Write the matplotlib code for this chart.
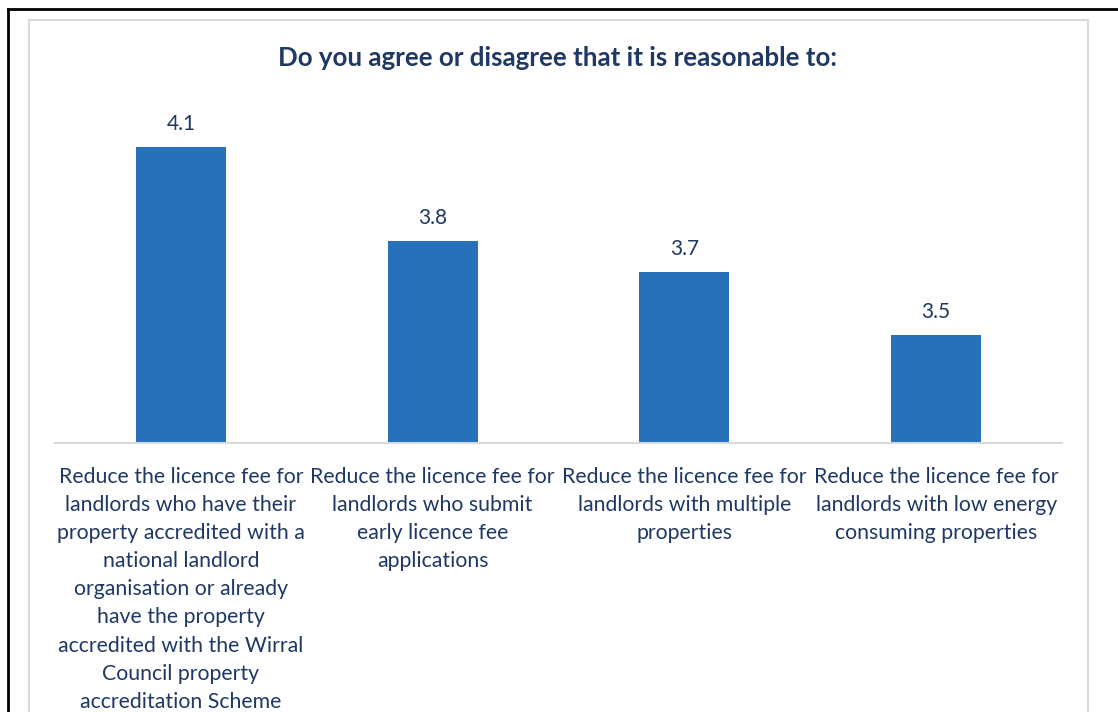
"""Bar chart of mean agreement scores for licence fee reductions."""

import matplotlib

matplotlib.use("Agg")
import matplotlib.pyplot as plt
from matplotlib.lines import Line2D
from matplotlib.patches import Rectangle

# Survey statements and their mean scores
categories = [
    "Reduce the licence fee for\nlandlords who have their\nproperty accredited with a\nnational landlord\n"
    "organisation or already\nhave the property\naccredited with the Wirral\nCouncil property\n"
    "accreditation Scheme",
    "Reduce the licence fee for\nlandlords who submit\nearly licence fee\napplications",
    "Reduce the licence fee for\nlandlords with multiple\nproperties",
    "Reduce the licence fee for\nlandlords with low energy\nconsuming properties",
]
scores = [4.1, 3.8, 3.7, 3.5]
title = "Do you agree or disagree that it is reasonable to:"

BAR_COLOR = "#2771BA"
TEXT_COLOR = "#1F3864"
FONT = ["Lato", "DejaVu Sans"]

W, H = 1118, 712
fig = plt.figure(figsize=(W / 100, H / 100), dpi=100)
fig.patch.set_facecolor("white")

# Frame lines around the chart
fig.add_artist(Line2D([8 / W, 1], [1 - 9 / H, 1 - 9 / H], color="black", lw=2))
fig.add_artist(Line2D([8 / W, 8 / W], [0, 1 - 9 / H], color="black", lw=2))
fig.add_artist(
    Rectangle((29 / W, -0.05), (1088 - 29) / W, 1.05 - 20 / H,
              fill=False, edgecolor="#D9D9D9", lw=1.5)
)

ax = fig.add_axes([55 / W, (H - 443) / H, 1007 / W, 343 / H])
x = list(range(len(scores)))
bars = ax.bar(x, scores, width=0.357, color=BAR_COLOR, bottom=0)
ax.set_xlim(-0.5, len(scores) - 0.5)
ax.set_ylim(3.157, 4.248)

for rect, val in zip(bars, scores):
    ax.annotate(f"{val:.1f}", (rect.get_x() + rect.get_width() / 2, val),
                xytext=(0, 16.5), textcoords="offset points",
                ha="center", va="center", fontsize=15, color=TEXT_COLOR, family=FONT)

ax.set_yticks([])
ax.set_xticks(x)
ax.set_xticklabels(categories, fontsize=15.3, color=TEXT_COLOR, family=FONT,
                   linespacing=1.51, va="top")
ax.tick_params(axis="x", length=0, pad=17)
for side in ("left", "right", "top"):
    ax.spines[side].set_visible(False)
ax.spines["bottom"].set_color("#D9D9D9")
ax.spines["bottom"].set_linewidth(1.5)

fig.text(557 / W, 1 - 58 / H, title, ha="center", va="center",
         fontsize=18.6, fontweight="bold", color=TEXT_COLOR, family=FONT)

fig.savefig("out.png", dpi=100)
